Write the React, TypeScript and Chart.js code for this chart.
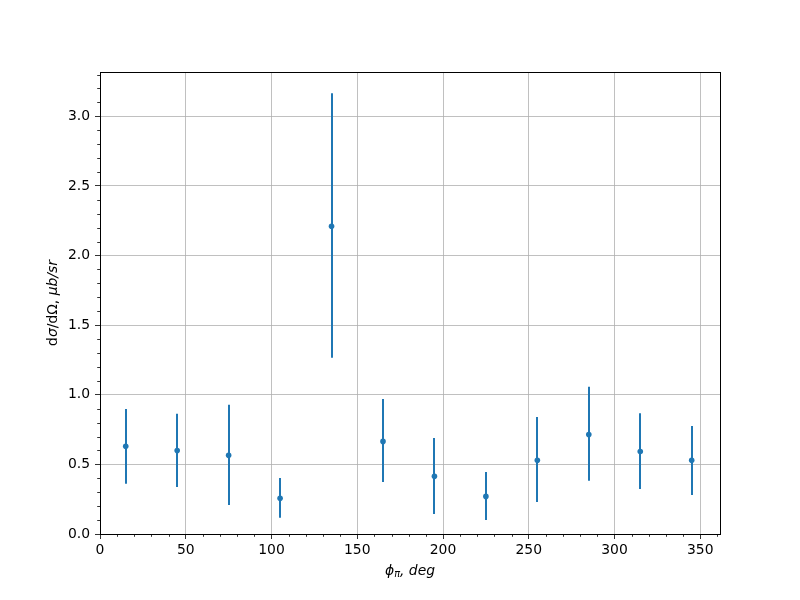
import React, { useEffect, useRef } from "react";
import { Chart, registerables } from "chart.js";
Chart.register(...registerables);

const phiDeg = [15, 45, 75, 105, 135, 165, 195, 225, 255, 285, 315, 345];
const sigmaVals = [0.63, 0.6, 0.565, 0.256, 2.21, 0.665, 0.414, 0.27, 0.529, 0.715, 0.593, 0.529];
const sigmaLow = [0.361, 0.337, 0.208, 0.117, 1.266, 0.373, 0.1435, 0.1005, 0.23, 0.383, 0.323, 0.28];
const sigmaHigh = [0.897, 0.863, 0.928, 0.402, 3.165, 0.969, 0.689, 0.445, 0.84, 1.057, 0.868, 0.775];
const xTickVals = [0, 50, 100, 150, 200, 250, 300, 350];
const yTickVals = [0, 0.5, 1.0, 1.5, 2.0, 2.5, 3.0];
const xRange = [0, 361.5];
const yRange = [0, 3.318];

const BLUE = "#1f77b4";
const FONT = "'DejaVu Sans', sans-serif";
const FS = 13.9;

const decorPlugin = {
  id: "decor",
  beforeDatasetsDraw(chart: any) {
    const ctx = chart.ctx;
    const xs = chart.scales.x;
    const ys = chart.scales.y;
    ctx.save();
    ctx.strokeStyle = BLUE;
    ctx.lineWidth = 2;
    for (let i = 0; i < phiDeg.length; i++) {
      const px = Math.round(xs.getPixelForValue(phiDeg[i]));
      ctx.beginPath();
      ctx.moveTo(px, ys.getPixelForValue(sigmaLow[i]));
      ctx.lineTo(px, ys.getPixelForValue(sigmaHigh[i]));
      ctx.stroke();
    }
    ctx.restore();
  },
  afterDraw(chart: any) {
    const ctx = chart.ctx;
    const a = chart.chartArea;
    const xs = chart.scales.x;
    const ys = chart.scales.y;
    ctx.save();
    // minor ticks
    ctx.strokeStyle = "#000";
    ctx.lineWidth = 0.8;
    for (let v = 10; v < xRange[1]; v += 10) {
      if (v % 50 === 0) continue;
      const px = Math.round(xs.getPixelForValue(v)) + 0.5;
      ctx.beginPath();
      ctx.moveTo(px, a.bottom);
      ctx.lineTo(px, a.bottom + 2.8);
      ctx.stroke();
    }
    for (let k = 1; k / 10 < yRange[1]; k++) {
      if (k % 5 === 0) continue;
      const py = Math.round(ys.getPixelForValue(k / 10)) + 0.5;
      ctx.beginPath();
      ctx.moveTo(a.left, py);
      ctx.lineTo(a.left - 2.8, py);
      ctx.stroke();
    }
    // spines
    ctx.strokeStyle = "#000";
    ctx.lineWidth = 1;
    ctx.strokeRect(Math.round(a.left) + 0.5, Math.round(a.top) + 0.5, Math.round(a.right - a.left), Math.round(a.bottom - a.top));

    // axis titles
    ctx.fillStyle = "#000";
    ctx.textBaseline = "middle";
    ctx.textAlign = "left";
    const it = `italic ${FS}px ${FONT}`;
    const nm = `${FS}px ${FONT}`;
    const sm = `italic ${FS * 0.7}px ${FONT}`;
    // x title
    const xsegs = [
      { t: "ϕ", f: it, dy: 0 },
      { t: "π", f: sm, dy: 3 },
      { t: ", deg", f: it, dy: 0 },
    ];
    let total = 0;
    for (const s of xsegs) { ctx.font = s.f; total += ctx.measureText(s.t).width; }
    let cx = (a.left + a.right) / 2 - total / 2;
    for (const s of xsegs) {
      ctx.font = s.f;
      ctx.fillText(s.t, cx, 571 + s.dy);
      cx += ctx.measureText(s.t).width;
    }
    // y title
    const ysegs = [
      { t: "d", f: nm },
      { t: "σ", f: it },
      { t: "/d", f: nm },
      { t: "Ω", f: nm },
      { t: ", ", f: nm },
      { t: "μb/sr", f: it },
    ];
    total = 0;
    for (const s of ysegs) { ctx.font = s.f; total += ctx.measureText(s.t).width; }
    ctx.translate(53, (a.top + a.bottom) / 2);
    ctx.rotate(-Math.PI / 2);
    let cy = -total / 2;
    for (const s of ysegs) {
      ctx.font = s.f;
      ctx.fillText(s.t, cy, 0);
      cy += ctx.measureText(s.t).width;
    }
    ctx.restore();
  },
};

export default function App() {
  const ref = useRef<HTMLCanvasElement>(null);
  useEffect(() => {
    if (!ref.current) return;
    const chart = new Chart(ref.current, {
      type: "scatter",
      data: {
        datasets: [
          {
            data: phiDeg.map((x, i) => ({ x, y: sigmaVals[i] })),
            backgroundColor: BLUE,
            borderColor: BLUE,
            pointRadius: 2.8,
            borderWidth: 0,
            showLine: false,
          },
        ],
      },
      options: {
        responsive: false,
        animation: false,
        devicePixelRatio: 1,
        layout: { padding: { top: 72, right: 80, left: 0, bottom: 0 } },
        plugins: { legend: { display: false }, tooltip: { enabled: false }, title: { display: false } },
        scales: {
          x: {
            type: "linear",
            min: xRange[0],
            max: xRange[1],
            afterBuildTicks: (s: any) => { s.ticks = xTickVals.map((v) => ({ value: v })); },
            afterFit: (s: any) => { s.height = 66; },
            ticks: {
              color: "#000",
              font: { family: FONT, size: FS },
              padding: 3,
              maxRotation: 0,
              autoSkip: false,
              callback: (v: any) => String(v),
            },
            grid: { color: "#b0b0b0", lineWidth: 0.8, tickColor: "#000", tickLength: 5, tickWidth: 0.8 },
            border: { display: false },
          },
          y: {
            type: "linear",
            min: yRange[0],
            max: yRange[1],
            afterBuildTicks: (s: any) => { s.ticks = yTickVals.map((v) => ({ value: v })); },
            afterFit: (s: any) => { s.width = 100; },
            ticks: {
              color: "#000",
              font: { family: FONT, size: FS },
              padding: 5,
              autoSkip: false,
              callback: (v: any) => Number(v).toFixed(1),
            },
            grid: { color: "#b0b0b0", lineWidth: 0.8, tickColor: "#000", tickLength: 5, tickWidth: 0.8 },
            border: { display: false },
          },
        },
      },
      plugins: [decorPlugin],
    } as any);
    return () => chart.destroy();
  }, []);
  return (
    <div style={{ position: "fixed", left: 0, top: 0, width: 800, height: 600, background: "#fff" }}>
      <canvas ref={ref} width={800} height={600} style={{ width: 800, height: 600 }} />
    </div>
  );
}
